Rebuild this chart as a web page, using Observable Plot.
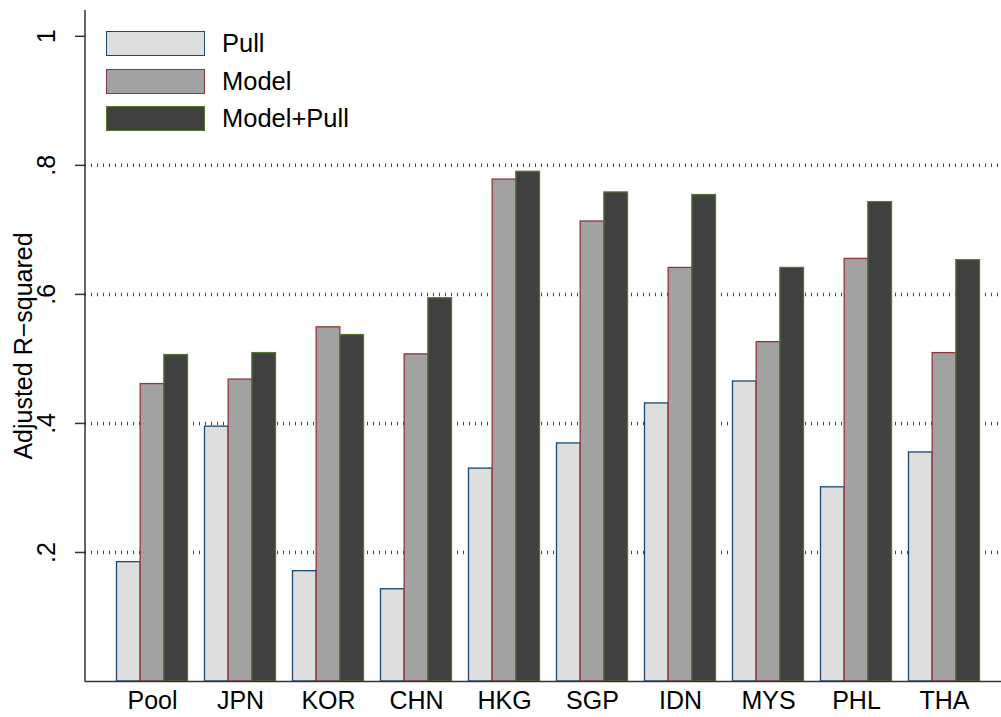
<!DOCTYPE html>
<html><head><meta charset="utf-8">
<script src="https://cdn.jsdelivr.net/npm/d3@7"></script>
<script src="https://cdn.jsdelivr.net/npm/@observablehq/plot@0.6"></script>
<style>
body{margin:0;background:#fff;}
#wrap{position:relative;width:1001px;height:717px;font-family:"Liberation Sans",Arial,sans-serif;}
#legend{position:absolute;left:106px;top:31px;}
.row{display:flex;align-items:center;height:25px;margin-bottom:12.5px;}
.box{box-sizing:border-box;width:99px;height:25px;border:1.5px solid;}
.lab{margin-left:17px;font-size:25.5px;color:#000;line-height:25px;}
</style></head><body><div id="wrap"></div>
<script>
const countries = ["Pool","JPN","KOR","CHN","HKG","SGP","IDN","MYS","PHL","THA"];
const series = ["Pull","Model","Model+Pull"];
const pull      = [0.185,0.395,0.171,0.143,0.330,0.369,0.431,0.465,0.301,0.355];
const model     = [0.461,0.468,0.549,0.507,0.778,0.713,0.641,0.526,0.655,0.509];
const modelPull = [0.506,0.509,0.537,0.594,0.790,0.758,0.754,0.641,0.743,0.653];
const yTicks = [0.2,0.4,0.6,0.8,1];
const gridTicks = [0.2,0.4,0.6,0.8];
const yTitle = "Adjusted R\u2212squared";

const fills = ["#dedede","#a2a2a2","#404040"];
const strokes = ["#1a476f","#90353b","#55752f"];
const values = [pull, model, modelPull];

const xRange = [108, 988];
const padInner = 0.193;
const step = (xRange[1]-xRange[0]) / countries.length;
const bw = step * (1 - padInner);
const third = bw / 3;

const fmt = d => d === 1 ? "1" : String(d).replace(/^0/, "");

const bars = series.map((s, k) => {
  const rows = countries.map((c, i) => ({country: c, series: s, value: values[k][i]}));
  return Plot.barY(rows, {
    x: "country", y: "value",
    fill: fills[k], stroke: strokes[k], strokeWidth: 1.3,
    insetLeft: k * third, insetRight: (2 - k) * third
  });
});

const yAxisLine = (index, scales, vals, dims) => {
  const g = d3.create("svg:g");
  g.append("line")
    .attr("x1", dims.marginLeft).attr("x2", dims.marginLeft)
    .attr("y1", dims.marginTop).attr("y2", dims.height - dims.marginBottom + 0.75)
    .attr("stroke", "#333").attr("stroke-width", 1.5);
  return g.node();
};

const chart = Plot.plot({
  width: 1001, height: 717,
  marginLeft: 85, marginRight: 0, marginTop: 10, marginBottom: 36,
  style: {fontFamily: "Liberation Sans, Arial, sans-serif", background: "#fff", color: "#000"},
  x: {type: "band", domain: countries, range: xRange, paddingInner: padInner, paddingOuter: padInner/2, round: false, axis: null, label: null},
  y: {domain: [0, 1.04], axis: null, label: null},
  marks: [
    Plot.gridY(gridTicks, {stroke: "#444", strokeOpacity: 1, strokeWidth: 3.5, strokeDasharray: "1,5"}),
    ...bars,
    Plot.ruleY([0], {stroke: "#333", strokeWidth: 1.5}),
    yAxisLine,
    Plot.axisY(yTicks, {tickSize: 10, tickFormat: () => "", label: null, stroke: "#333", strokeWidth: 1.5}),
    Plot.text(yTicks, {y: d => d, text: fmt, frameAnchor: "left", dx: -31, rotate: -90,
      textAnchor: "middle", lineAnchor: "bottom", fontSize: 25, fill: "#000"}),
    Plot.text([yTitle], {text: d => d, frameAnchor: "left", dx: -54, rotate: -90,
      textAnchor: "middle", lineAnchor: "bottom", fontSize: 25, fill: "#000"}),
    Plot.axisX({tickSize: 0, tickPadding: 10, fontSize: 25, fill: "#000", label: null})
  ]
});

const wrap = document.getElementById("wrap");
wrap.appendChild(chart);
const leg = document.createElement("div");
leg.id = "legend";
series.forEach((s, k) => {
  const r = document.createElement("div"); r.className = "row";
  const b = document.createElement("div"); b.className = "box";
  b.style.background = fills[k]; b.style.borderColor = strokes[k];
  const t = document.createElement("span"); t.className = "lab"; t.textContent = s;
  r.appendChild(b); r.appendChild(t); leg.appendChild(r);
});
wrap.appendChild(leg);
</script>
</body></html>
